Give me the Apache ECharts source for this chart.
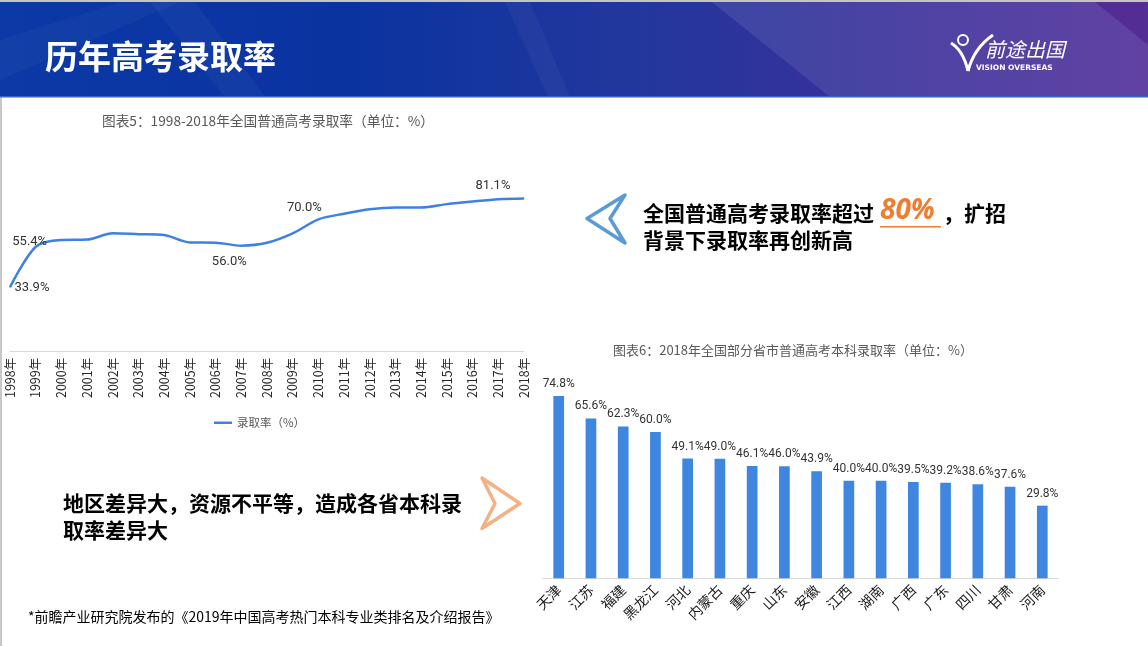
<!DOCTYPE html>
<html>
<head>
<meta charset="utf-8">
<script src="https://cdn.jsdelivr.net/npm/echarts@6/dist/echarts.min.js"></script>
<style>
html,body{margin:0;padding:0;background:#fff;}
#c{width:1148px;height:646px;}
</style>
</head>
<body>
<div id="c"></div>
<script>
// ---- data ----
var years = ['1998年','1999年','2000年','2001年','2002年','2003年','2004年','2005年','2006年','2007年','2008年','2009年','2010年','2011年','2012年','2013年','2014年','2015年','2016年','2017年','2018年'];
var rates = [33.9, 55.4, 59.0, 59.2, 62.6, 62.1, 61.6, 57.7, 57.6, 56.0, 57.5, 62.5, 70.0, 73.0, 75.4, 76.3, 76.3, 78.1, 79.5, 80.7, 81.1];
var provinces = ['天津','江苏','福建','黑龙江','河北','内蒙古','重庆','山东','安徽','江西','湖南','广西','广东','四川','甘肃','河南'];
var provRates = [74.8, 65.6, 62.3, 60.0, 49.1, 49.0, 46.1, 46.0, 43.9, 40.0, 40.0, 39.5, 39.2, 38.6, 37.6, 29.8];
var lineName = '录取率（%）';

// label placement for the few annotated points (style only)
var lineLabelOffsets = {0:[22,1], 1:[-6,-5], 9:[-12,16], 12:[-14,-12], 20:[-31,-13]};

var numFont = '"Liberation Sans Narrow", Roboto, "Noto Sans CJK SC", sans-serif';
var cjk = '"Noto Sans CJK SC", "Noto Sans", sans-serif';

var lineData = rates.map(function (v, i) {
  var item = { value: v };
  if (lineLabelOffsets[i]) {
    item.label = { show: true, position: 'inside', offset: lineLabelOffsets[i] };
  }
  return item;
});

var chart = echarts.init(document.getElementById('c'));
var option = {
  backgroundColor: '#ffffff',
  animation: false,
  legend: {
    data: [lineName],
    left: 209, top: 412,
    icon: 'rect', itemWidth: 18, itemHeight: 2.5, itemGap: 4,
    textStyle: { color: '#595959', fontSize: 11.5, fontFamily: cjk }
  },
  grid: [
    { left: 10, right: 624, top: 163, bottom: 295.2, outerBoundsMode: 'none' },
    { left: 542.6, right: 89.6, top: 383.3, bottom: 67.7, outerBoundsMode: 'none' }
  ],
  xAxis: [
    {
      gridIndex: 0, type: 'category', data: years, boundaryGap: false,
      axisLine: { lineStyle: { color: '#d9d9d9' } },
      axisTick: { show: false },
      axisLabel: { rotate: 90, interval: 0, margin: 7, color: '#262626', fontSize: 12.5, fontFamily: cjk }
    },
    {
      gridIndex: 1, type: 'category', data: provinces,
      axisLine: { lineStyle: { color: '#d9d9d9' } },
      axisTick: { show: false },
      axisLabel: { rotate: 45, interval: 0, margin: 9, color: '#1a1a1a', fontSize: 14, fontFamily: cjk }
    }
  ],
  yAxis: [
    { gridIndex: 0, type: 'value', min: 0, max: 100, show: false },
    { gridIndex: 1, type: 'value', min: 0, max: 80, show: false }
  ],
  series: [
    {
      name: lineName, type: 'line', xAxisIndex: 0, yAxisIndex: 0,
      data: lineData, smooth: 0.3,
      showSymbol: true, symbol: 'circle', symbolSize: 1,
      itemStyle: { color: '#3E80E4' },
      lineStyle: { color: '#3E80E4', width: 2.5 },
      label: { show: false, color: '#333333', fontSize: 13, fontFamily: numFont,
        formatter: function (p) { return p.value.toFixed(1) + '%'; } }
    },
    {
      name: '本科录取率', type: 'bar', xAxisIndex: 1, yAxisIndex: 1,
      data: provRates, barWidth: 10.7,
      itemStyle: { color: '#3F86E0' },
      label: { show: true, position: 'top', distance: 6, color: '#333333', fontSize: 12, fontFamily: numFont,
        formatter: function (p) { return p.value.toFixed(1) + '%'; } }
    }
  ],
  graphic: { elements: [
    // header band
    { type: 'rect', z: -10, shape: { x: 0, y: 0, width: 1148, height: 2 }, style: { fill: '#c4c4c4' } },
    { type: 'rect', z: -10, shape: { x: 0, y: 2, width: 1148, height: 95 },
      style: { fill: new echarts.graphic.LinearGradient(0, 0, 1, 0, [
        { offset: 0, color: '#0b39a6' },
        { offset: 0.3, color: '#0a33a0' },
        { offset: 0.55, color: '#22379d' },
        { offset: 0.75, color: '#37319a' },
        { offset: 1, color: '#52309a' }
      ]) } },
    { type: 'polygon', z: -9, shape: { points: [[712,2],[1148,2],[1148,97],[830,97]] }, style: { fill: 'rgba(255,255,255,0.09)' } },
    { type: 'polygon', z: -9, shape: { points: [[1095,2],[1148,2],[1148,45]] }, style: { fill: 'rgba(70,20,130,0.45)' } },
    { type: 'polygon', z: -9, shape: { points: [[150,2],[195,2],[265,97],[225,97]] }, style: { fill: 'rgba(255,255,255,0.04)' } },
    { type: 'polygon', z: -9, shape: { points: [[0,40],[120,2],[180,2],[0,80]] }, style: { fill: 'rgba(255,255,255,0.03)' } },
    { type: 'polygon', z: -9, shape: { points: [[505,2],[530,2],[570,97],[548,97]] }, style: { fill: 'rgba(255,255,255,0.04)' } },
    { type: 'rect', z: -9, shape: { x: 0, y: 96, width: 1148, height: 1.5 }, style: { fill: '#3d5fd0' } },
    { type: 'text', z: 5, x: 45, y: 56, style: { text: '历年高考录取率', fill: '#ffffff', font: 'bold 33px "Noto Sans CJK SC", sans-serif', verticalAlign: 'middle' } },
    // logo
    { type: 'bezierCurve', z: 5, shape: { x1: 951, y1: 43, x2: 968, y2: 71, cpx1: 963, cpy1: 50 }, style: { fill: 'none', stroke: '#ffffff', lineWidth: 3 } },
    { type: 'bezierCurve', z: 5, shape: { x1: 968, y1: 71, x2: 993, y2: 35, cpx1: 974, cpy1: 48 }, style: { fill: 'none', stroke: '#ffffff', lineWidth: 3 } },
    { type: 'circle', z: 5, shape: { cx: 963, cy: 40, r: 5 }, style: { fill: 'none', stroke: '#ffffff', lineWidth: 2 } },
    { type: 'text', z: 5, x: 985, y: 49, style: { text: '前途出国', fill: '#ffffff', font: 'italic 20px "Noto Sans CJK SC", sans-serif', verticalAlign: 'middle' } },
    { type: 'text', z: 5, x: 976, y: 68, style: { text: 'VISION OVERSEAS', fill: '#ffffff', font: 'bold 7.5px "DejaVu Sans", sans-serif', verticalAlign: 'middle' } },
    // left page edge
    { type: 'rect', z: -10, shape: { x: 0, y: 97, width: 2, height: 549 }, style: { fill: '#c8c8c8' } },
    // chart titles
    { type: 'text', x: 268, y: 121, style: { text: '图表5：1998-2018年全国普通高考录取率（单位：%）', fill: '#595959', font: '13.7px "Noto Sans CJK SC", sans-serif', align: 'center', verticalAlign: 'middle' } },
    { type: 'text', x: 793, y: 350, style: { text: '图表6：2018年全国部分省市普通高考本科录取率（单位：%）', fill: '#595959', font: '13px "Noto Sans CJK SC", sans-serif', align: 'center', verticalAlign: 'middle' } },
    // callout 1
    { type: 'polygon', shape: { points: [[625,195],[587,218.5],[625,243],[610,218.5]] }, style: { fill: 'none', stroke: '#5B9BD5', lineWidth: 3.5, lineJoin: 'round' } },
    { type: 'text', x: 643, y: 213, style: { text: '全国普通高考录取率超过', fill: '#000000', font: 'bold 21px "Noto Sans CJK SC", sans-serif', verticalAlign: 'middle' } },
    { type: 'text', x: 880, y: 211, style: { text: '80%', fill: '#ED7D31', font: 'italic bold 28px "Open Sans", sans-serif', verticalAlign: 'middle' } },
    { type: 'rect', shape: { x: 880, y: 226, width: 61, height: 1.5 }, style: { fill: '#ED7D31' } },
    { type: 'text', x: 943, y: 213, style: { text: '，扩招', fill: '#000000', font: 'bold 21px "Noto Sans CJK SC", sans-serif', verticalAlign: 'middle' } },
    { type: 'text', x: 643, y: 240, style: { text: '背景下录取率再创新高', fill: '#000000', font: 'bold 21px "Noto Sans CJK SC", sans-serif', verticalAlign: 'middle' } },
    // callout 2
    { type: 'polygon', shape: { points: [[482,478],[520,503.5],[482,528.5],[495,503.5]] }, style: { fill: 'none', stroke: '#F4B183', lineWidth: 3.5, lineJoin: 'round' } },
    { type: 'text', x: 63, y: 503, style: { text: '地区差异大，资源不平等，造成各省本科录', fill: '#000000', font: 'bold 21px "Noto Sans CJK SC", sans-serif', verticalAlign: 'middle' } },
    { type: 'text', x: 63, y: 530, style: { text: '取率差异大', fill: '#000000', font: 'bold 21px "Noto Sans CJK SC", sans-serif', verticalAlign: 'middle' } },
    // footnote
    { type: 'text', x: 28, y: 617, style: { text: '*前瞻产业研究院发布的《2019年中国高考热门本科专业类排名及介绍报告》', fill: '#000000', font: '14px "Noto Sans CJK SC", sans-serif', verticalAlign: 'middle' } }
  ] }
};
chart.setOption(option);
</script>
</body>
</html>
